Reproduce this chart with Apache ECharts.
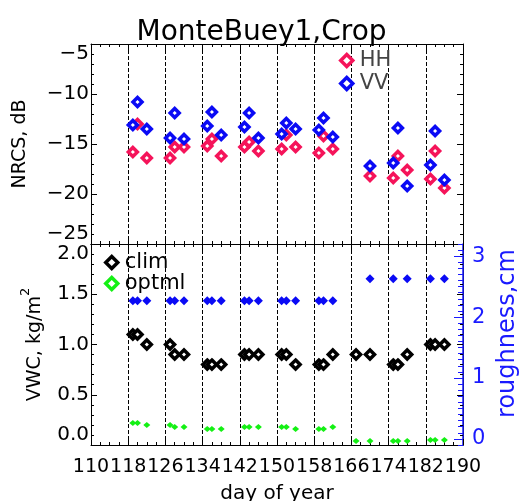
<!DOCTYPE html>
<html><head><meta charset="utf-8">
<script src="https://cdn.jsdelivr.net/npm/echarts@6/dist/echarts.min.js"></script>
<style>html,body{margin:0;padding:0;background:#fff}#c{width:523px;height:501px}</style>
</head><body><div id="c"></div>
<script>
// ---- data ----
const DAY0 = 110;
const xTicks = [110,118,126,134,142,150,158,166,174,182,190];
const nrcsTicks = [-25,-20,-15,-10,-5];
const vwcTicks = [0.0,0.5,1.0,1.5,2.0];
const roughTicks = [0,1,2,3];

const sarDays = [119,120,122, 127,128,130, 135,136,138, 143,144,146, 151,152,154, 159,160,162, 170, 175,176,178, 183,184,186];
const hh = [-15.8,-13.0,-16.4, -16.4,-15.3,-15.3, -15.2,-14.5,-16.2, -15.3,-14.8,-15.7, -15.5,-14.1,-15.3, -15.9,-14.2,-15.5, -18.2, -18.4,-16.2,-17.6, -18.5,-15.7,-19.4];
const vv = [-13.1,-10.8,-13.5, -14.4,-11.9,-14.5, -13.2,-11.8,-14.1, -13.3,-11.9,-14.4, -14.0,-12.9,-13.5, -13.6,-12.4,-14.3, -17.2, -16.9,-13.4,-19.2, -17.1,-13.7,-18.6];

const vwcDays = [119,120,122, 127,128,130, 135,136,138, 143,144,146, 151,152,154, 159,160,162, 167,170, 175,176,178, 183,184,186];
const clim = [1.1,1.1,1.0, 1.0,0.9,0.9, 0.8,0.8,0.8, 0.9,0.9,0.9, 0.9,0.9,0.8, 0.8,0.8,0.9, 0.9,0.9, 0.8,0.8,0.9, 1.0,1.0,1.0];
const optml = [0.22,0.22,0.20, 0.20,0.18,0.18, 0.16,0.16,0.16, 0.18,0.18,0.18, 0.18,0.18,0.16, 0.16,0.16,0.18, 0.04,0.04, 0.04,0.04,0.04, 0.05,0.05,0.05];

const roughDays = [119,120,122, 127,128,130, 135,136,138, 143,144,146, 151,152,154, 159,160,162, 170, 175,178, 183,186];
const roughness = [2.27,2.27,2.27, 2.27,2.27,2.27, 2.27,2.27,2.27, 2.27,2.27,2.27, 2.27,2.27,2.27, 2.27,2.27,2.27, 2.63, 2.63,2.63, 2.63,2.63];

// ---- style ----
const RED='#F5145A', BLUE='#0A0AF5', GREEN='#14F014', BLK='#000', AXBLUE='#1a1aff';
const FONT='DejaVu Sans';
const pts = (days, vals) => days.map((d,i)=>[d-DAY0, vals[i]]);
const minus = v => String(v).replace('-', '\u2212');

function xAx(grid, pos, showLabels, split){
  return {type:'value', gridIndex:grid, position:pos, min:0, max:xTicks[xTicks.length-1]-DAY0, interval:xTicks[1]-xTicks[0],
    axisLine:{show:true, onZero:false, lineStyle:{color:BLK,width:1}},
    axisTick:{show:true, inside:true, length:6, lineStyle:{color:BLK,width:1}},
    minorTick:{show:true, splitNumber:4, length:3, lineStyle:{color:BLK,width:1}},
    splitLine:{show:split, lineStyle:{color:BLK, type:[4,2], width:1}},
    axisLabel:{show:showLabels, hideOverlap:false, showMinLabel:true, showMaxLabel:true, margin:13,
      color:BLK, fontFamily:FONT, fontSize:19, formatter:v=>String(v+DAY0)}
  };
}
function yMirror(grid, min, max, interval){
  return {type:'value', gridIndex:grid, position:'right', min, max, interval,
    axisLine:{show:true, onZero:false, lineStyle:{color:BLK,width:1}},
    axisTick:{show:true, inside:true, length:6, lineStyle:{color:BLK}},
    minorTick:{show:true, splitNumber:5, length:3, lineStyle:{color:BLK}},
    splitLine:{show:false}, axisLabel:{show:false}};
}

const xA0 = xAx(0,'bottom',false,true);
const xA1 = xAx(0,'top',false,false);
const xA2 = xAx(1,'bottom',true,true);
xA2.name = 'day of year'; xA2.nameLocation='middle'; xA2.nameGap=39;
xA2.nameTextStyle={color:BLK, fontFamily:FONT, fontSize:20};
const xA3 = xAx(1,'top',false,false);

const roughMinor = [];
for (let k=-1;k<=32;k++) roughMinor.push(+(k/10).toFixed(1));

const legendOpen = c => ({color:'#fff', borderColor:c, borderWidth:3.5, opacity:1});

const option = {
  backgroundColor:'#fff',
  animation:false,
  title:{text:'MonteBuey1,Crop', left:'center', top:14,
    textStyle:{fontFamily:FONT, fontSize:28, fontWeight:'normal', color:BLK}},
  grid:[
    {left:91, top:44, width:372, height:200, outerBoundsMode:'none', containLabel:false},
    {left:91, top:244, width:372, height:201, outerBoundsMode:'none', containLabel:false}
  ],
  legend:[
    {data:[{name:'HH', icon:'diamond', itemStyle:legendOpen(RED)}, {name:'VV', icon:'diamond', itemStyle:legendOpen(BLUE)}],
      orient:'vertical', left:339, top:50, itemWidth:12, itemHeight:12, itemGap:2, padding:0,
      selectedMode:false,
      textStyle:{fontFamily:FONT, fontSize:21, color:'#444', padding:[0,0,0,2]}},
    {data:[{name:'clim', icon:'diamond', itemStyle:legendOpen(BLK)}, {name:'optml', icon:'diamond', itemStyle:legendOpen(GREEN)}],
      orient:'vertical', left:104, top:252, itemWidth:12, itemHeight:12, itemGap:0, padding:0,
      selectedMode:false,
      textStyle:{fontFamily:FONT, fontSize:21, color:BLK, padding:[0,0,0,2]}}
  ],
  xAxis:[xA0, xA1, xA2, xA3],
  yAxis:[
    {type:'value', gridIndex:0, position:'left', min:nrcsTicks[0], max:nrcsTicks[nrcsTicks.length-1], interval:5,
      name:'NRCS, dB', nameLocation:'middle', nameRotate:90, nameGap:61,
      nameTextStyle:{color:BLK, fontFamily:FONT, fontSize:19},
      axisLine:{show:true, onZero:false, lineStyle:{color:BLK,width:1}},
      axisTick:{show:true, inside:true, length:6, lineStyle:{color:BLK}},
      minorTick:{show:true, splitNumber:5, length:3, lineStyle:{color:BLK}},
      splitLine:{show:false},
      axisLabel:{color:BLK, fontFamily:FONT, fontSize:20, margin:2, formatter:v=>minus(v),
        verticalAlignMaxLabel:'top', verticalAlignMinLabel:'bottom'}},
    yMirror(0, nrcsTicks[0], nrcsTicks[nrcsTicks.length-1], 5),
    {type:'value', gridIndex:1, position:'left', min:vwcTicks[0], max:vwcTicks[vwcTicks.length-1], interval:0.5,
      name:'{a|VWC, kg/m}{s|2}', nameLocation:'middle', nameRotate:90, nameGap:46,
      nameTextStyle:{color:BLK, fontFamily:FONT, fontSize:19,
        rich:{a:{fontFamily:FONT, fontSize:19, color:BLK, lineHeight:26, verticalAlign:'bottom'},
              s:{fontFamily:FONT, fontSize:13, color:BLK, lineHeight:26, verticalAlign:'top'}}},
      axisLine:{show:true, onZero:false, lineStyle:{color:BLK,width:1}},
      axisTick:{show:true, inside:true, length:6, lineStyle:{color:BLK}},
      minorTick:{show:true, splitNumber:5, length:3, lineStyle:{color:BLK}},
      splitLine:{show:false},
      axisLabel:{color:BLK, fontFamily:FONT, fontSize:20, margin:2, formatter:v=>v.toFixed(1),
        verticalAlignMaxLabel:'top', verticalAlignMinLabel:'bottom'}},
    yMirror(1, vwcTicks[0], vwcTicks[vwcTicks.length-1], 0.5),
    {type:'value', gridIndex:1, position:'right', min:-0.1, max:3.2,
      name:'roughness,cm', nameLocation:'middle', nameRotate:90, nameGap:33,
      nameTextStyle:{color:AXBLUE, fontFamily:FONT, fontSize:24, padding:[0,0,0,22]},
      axisLine:{show:true, onZero:false, lineStyle:{color:AXBLUE,width:1.5}},
      axisTick:{show:true, inside:true, length:9, customValues:roughTicks, lineStyle:{color:AXBLUE}},
      splitLine:{show:false},
      axisLabel:{show:true, customValues:roughTicks, color:AXBLUE, fontFamily:FONT, fontSize:21, margin:9,
        formatter:v=>String(Math.round(v))}},
    {type:'value', gridIndex:1, position:'right', min:-0.1, max:3.2,
      axisLine:{show:false, onZero:false},
      axisTick:{show:true, inside:true, length:5, customValues:roughMinor, lineStyle:{color:AXBLUE}},
      splitLine:{show:false}, axisLabel:{show:false}}
  ],
  series:[
    {name:'HH', type:'scatter', xAxisIndex:0, yAxisIndex:0, data:pts(sarDays, hh),
      symbol:'diamond', symbolSize:9, itemStyle:{color:'#fff', borderColor:RED, borderWidth:3.5, opacity:1}},
    {name:'VV', type:'scatter', xAxisIndex:0, yAxisIndex:0, data:pts(sarDays, vv),
      symbol:'diamond', symbolSize:9, itemStyle:{color:'#fff', borderColor:BLUE, borderWidth:3.5, opacity:1}},
    {name:'roughness', type:'scatter', xAxisIndex:2, yAxisIndex:4, data:pts(roughDays, roughness),
      symbol:'diamond', symbolSize:9, itemStyle:{color:BLUE, opacity:1}},
    {name:'clim', type:'scatter', xAxisIndex:2, yAxisIndex:2, data:pts(vwcDays, clim),
      symbol:'diamond', symbolSize:9, itemStyle:{color:'#fff', borderColor:BLK, borderWidth:3.5, opacity:1}},
    {name:'optml', type:'scatter', xAxisIndex:2, yAxisIndex:2, data:pts(vwcDays, optml),
      symbol:'diamond', symbolSize:[7,6], itemStyle:{color:GREEN, opacity:1}}
  ]
};
const chart = echarts.init(document.getElementById('c'), null, {renderer:'canvas'});
chart.setOption(option);
</script></body></html>
